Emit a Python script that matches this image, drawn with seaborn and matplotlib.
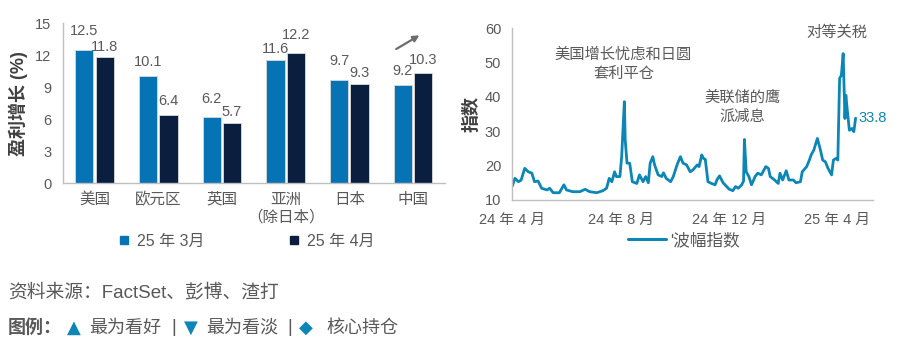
import matplotlib
import pandas as pd
import seaborn as sns

matplotlib.use("Agg")
import matplotlib.pyplot as plt
from matplotlib.lines import Line2D

# ---- left panel: earnings growth ----
regions = ["美国", "欧元区", "英国", "亚洲\n（除日本）", "日本", "中国"]
growth_mar = [12.5, 10.1, 6.2, 11.6, 9.7, 9.2]
growth_apr = [11.8, 6.4, 5.7, 12.2, 9.3, 10.3]
series_names = ["25 年 3月", "25 年 4月"]
growth_ticks = [0, 3, 6, 9, 12, 15]

# ---- right panel: volatility index ----
vix_dates = [
    "2024-04-01", "2024-04-04", "2024-04-08", "2024-04-11", "2024-04-15", "2024-04-19",
    "2024-04-23", "2024-04-26", "2024-04-30", "2024-05-04", "2024-05-10", "2024-05-13",
    "2024-05-17", "2024-05-24", "2024-05-29", "2024-06-01", "2024-06-08", "2024-06-16",
    "2024-06-22", "2024-06-27", "2024-07-05", "2024-07-12", "2024-07-16", "2024-07-19",
    "2024-07-22", "2024-07-25", "2024-07-27", "2024-07-31", "2024-08-02", "2024-08-05",
    "2024-08-06", "2024-08-08", "2024-08-11", "2024-08-14", "2024-08-19", "2024-08-22",
    "2024-08-26", "2024-08-29", "2024-09-01", "2024-09-03", "2024-09-06", "2024-09-08",
    "2024-09-12", "2024-09-16", "2024-09-18", "2024-09-21", "2024-09-26", "2024-09-29",
    "2024-10-02", "2024-10-04", "2024-10-07", "2024-10-10", "2024-10-14", "2024-10-18",
    "2024-10-21", "2024-10-26", "2024-10-28", "2024-10-31", "2024-11-02", "2024-11-04",
    "2024-11-07", "2024-11-11", "2024-11-15", "2024-11-17", "2024-11-20", "2024-11-24",
    "2024-11-28", "2024-12-01", "2024-12-05", "2024-12-08", "2024-12-11", "2024-12-15",
    "2024-12-17", "2024-12-18", "2024-12-20", "2024-12-23", "2024-12-26", "2024-12-30",
    "2025-01-02", "2025-01-06", "2025-01-11", "2025-01-14", "2025-01-16", "2025-01-21",
    "2025-01-25", "2025-01-27", "2025-01-30", "2025-02-03", "2025-02-06", "2025-02-11",
    "2025-02-14", "2025-02-19", "2025-02-21", "2025-02-26", "2025-03-01", "2025-03-03",
    "2025-03-06", "2025-03-10", "2025-03-13", "2025-03-16", "2025-03-19", "2025-03-22",
    "2025-03-26", "2025-03-28", "2025-03-31", "2025-04-02", "2025-04-04", "2025-04-06",
    "2025-04-08", "2025-04-10", "2025-04-11", "2025-04-13", "2025-04-15", "2025-04-18",
    "2025-04-20", "2025-04-22",
]
vix_values = [
    14.0, 16.3, 15.3, 15.8, 19.2, 18.2,
    17.8, 15.3, 15.5, 13.4, 12.9, 13.4,
    12.1, 12.1, 14.4, 12.9, 12.4, 12.4,
    13.1, 12.4, 12.1, 12.7, 13.4, 16.3,
    15.3, 18.2, 16.8, 16.8, 22.6, 38.6,
    27.4, 20.7, 20.7, 15.3, 14.8, 17.3,
    15.3, 16.8, 15.0, 20.7, 22.6, 20.2,
    17.3, 16.8, 17.9, 16.3, 15.3, 16.8,
    19.2, 20.7, 22.6, 20.7, 20.2, 18.2,
    18.7, 20.2, 19.7, 23.1, 22.1, 21.8,
    15.3, 14.8, 14.4, 15.8, 17.0, 15.0,
    13.9, 13.1, 12.7, 13.9, 13.4, 14.4,
    15.5, 27.6, 18.2, 16.8, 14.4, 16.8,
    17.8, 17.3, 19.7, 19.2, 16.8, 15.8,
    14.8, 17.8, 15.8, 18.5, 15.8, 15.8,
    15.0, 15.3, 18.2, 19.7, 21.6, 23.1,
    24.5, 27.9, 25.0, 21.6, 21.1, 19.2,
    17.3, 21.6, 22.1, 21.6, 45.4, 46.3,
    52.6, 33.7, 40.5, 35.2, 30.3, 30.8,
    29.9, 33.8,
]
vix_tick_dates = ["2024-04-01", "2024-08-01", "2024-12-01", "2025-04-01"]
vix_tick_labels = ["24 年 4 月", "24 年 8 月", "24 年 12 月", "25 年 4 月"]
vix_ticks = [10, 20, 30, 40, 50, 60]

BLUE = "#0673b4"
NAVY = "#0a1e40"
LINE_BLUE = "#0b86b6"
GREY = "#595959"
SPINE = "#bfbfbf"
SYMBOL_FONT = ["DejaVu Sans"]


def configure_plot_style() -> None:
    sns.set_theme(style="white", context="notebook")
    plt.rcParams.update(
        {
            "font.family": ["Liberation Sans", "Noto Sans CJK SC", "DejaVu Sans"],
            "font.size": 10.5,
            "xtick.labelsize": 10.5,
            "ytick.labelsize": 10.5,
            "xtick.color": SPINE,
            "ytick.color": SPINE,
            "xtick.labelcolor": GREY,
            "ytick.labelcolor": GREY,
            "axes.edgecolor": SPINE,
            "axes.linewidth": 1.0,
        }
    )


def style_axes(ax) -> None:
    sns.despine(ax=ax)
    ax.tick_params(axis="both", which="both", direction="out", width=1.0, color=SPINE)
    ax.tick_params(axis="y", length=4, pad=4)
    ax.grid(False)


def label_paddings(own: list[float], other: list[float]) -> list[float]:
    # stagger labels of neighbouring bars whose heights are close
    pads = []
    for a, b in zip(own, other):
        if abs(a - b) <= 1.1:
            pads.append(8.3 if a > b else 2.8)
        else:
            pads.append(4.8)
    return pads


def plot_growth(fig) -> None:
    ax = fig.add_axes([0.0687, 0.479, 0.419, 0.455])
    df = pd.DataFrame(
        {
            "region": regions * 2,
            "growth": growth_mar + growth_apr,
            "month": [series_names[0]] * len(regions) + [series_names[1]] * len(regions),
        }
    )
    sns.barplot(
        data=df,
        x="region",
        y="growth",
        hue="month",
        palette=[BLUE, NAVY],
        saturation=1,
        width=0.64,
        gap=0.1,
        edgecolor="#d9d9d9",
        linewidth=0.6,
        legend=False,
        ax=ax,
    )
    pad_sets = [label_paddings(growth_mar, growth_apr), label_paddings(growth_apr, growth_mar)]
    for container, pads in zip(ax.containers, pad_sets):
        for bar, pad in zip(container, pads):
            ax.annotate(
                f"{bar.get_height():.1f}",
                xy=(bar.get_x() + bar.get_width() / 2, bar.get_height()),
                xytext=(0, pad),
                textcoords="offset points",
                ha="center",
                va="bottom",
                color=GREY,
                fontsize=10.5,
            )

    ax.set_xlim(-0.5, len(regions) - 0.5)
    ax.set_ylim(0, 15)
    ax.set_yticks(growth_ticks)
    ax.set_xlabel("")
    ax.set_ylabel("盈利增长 (%)", color="#404040", fontsize=13, fontweight="bold", labelpad=5)
    style_axes(ax)
    ax.tick_params(axis="x", which="major", length=0, pad=6, labelsize=11.2)
    ax.set_xticks([i - 0.5 for i in range(len(regions) + 1)], minor=True)
    ax.tick_params(axis="x", which="minor", length=4)
    for lbl in ax.get_xticklabels():
        lbl.set_linespacing(1.2)

    ax.annotate(
        "",
        xy=(5.14, 14.0),
        xytext=(4.70, 12.45),
        arrowprops=dict(arrowstyle="-|>", color="#6d6d6d", lw=1.6, mutation_scale=9),
        annotation_clip=False,
    )

    handles = [
        Line2D([], [], marker="s", linestyle="none", markersize=6, color=c)
        for c in (BLUE, NAVY)
    ]
    fig.legend(
        handles,
        series_names,
        loc="center left",
        bbox_to_anchor=(104 / 912, 1 - 241 / 352),
        ncol=2,
        frameon=False,
        handlelength=0.7,
        handletextpad=0.45,
        columnspacing=5.3,
        labelcolor=GREY,
        fontsize=11.5,
    )


def plot_vix(fig) -> None:
    ax = fig.add_axes([0.5617, 0.432, 0.395, 0.488])
    vix_df = pd.DataFrame({"date": pd.to_datetime(vix_dates), "vix": vix_values})
    sns.lineplot(data=vix_df, x="date", y="vix", color=LINE_BLUE, linewidth=2.0, ax=ax)

    ax.set_xlim(pd.Timestamp("2024-04-01"), pd.Timestamp("2025-05-11"))
    ax.set_ylim(10, 60)
    ax.set_yticks(vix_ticks)
    ax.set_xticks(pd.to_datetime(vix_tick_dates))
    ax.set_xticklabels(vix_tick_labels)
    ax.set_xlabel("")
    ax.set_ylabel("指数", color="#404040", fontsize=13, fontweight="bold", labelpad=3)
    style_axes(ax)
    ax.tick_params(axis="x", length=4, pad=5)

    note_kw = dict(ha="center", va="center", color=GREY, fontsize=11, linespacing=1.4)
    ax.text(pd.Timestamp("2024-08-04"), 49.5, "美国增长忧虑和日圆\n套利平仓", **note_kw)
    ax.text(pd.Timestamp("2024-12-16"), 36.9, "美联储的鹰\n派减息", **note_kw)
    ax.text(pd.Timestamp("2025-04-01"), 58.8, "对等关税", clip_on=False, **note_kw)

    last_date = vix_df["date"].iloc[-1]
    last_val = vix_df["vix"].iloc[-1]
    ax.text(
        last_date + pd.Timedelta(days=3),
        last_val,
        f"{last_val:.1f}",
        ha="left",
        va="center",
        color=LINE_BLUE,
        fontsize=10.5,
        clip_on=False,
    )

    fig.legend(
        [Line2D([], [], color=LINE_BLUE, linewidth=2.2)],
        ["'波幅指数"],
        loc="center left",
        bbox_to_anchor=(613 / 912, 1 - 240 / 352),
        frameon=False,
        handlelength=2.3,
        handletextpad=0.25,
        labelcolor=GREY,
        fontsize=12,
    )


def add_footer(fig) -> None:
    y_src = 1 - 293 / 352
    y_key = 1 - 328 / 352
    fig.text(8 / 912, y_src, "资料来源：FactSet、彭博、渣打", color=GREY, fontsize=13.5, va="center")
    fig.text(8 / 912, y_key, "图例：", color=GREY, fontsize=13, fontweight="bold", va="center")
    pieces = [
        (67, "▲", LINE_BLUE, True),
        (89, "最为看好", GREY, False),
        (171, "|", GREY, False),
        (184, "▼", LINE_BLUE, True),
        (206, "最为看淡", GREY, False),
        (287, "|", GREY, False),
        (299, "◆", LINE_BLUE, True),
        (326, "核心持仓", GREY, False),
    ]
    for x, txt, col, is_symbol in pieces:
        kw = {"family": SYMBOL_FONT} if is_symbol else {}
        fig.text(x / 912, y_key, txt, color=col, fontsize=13, va="center", **kw)


def main() -> None:
    configure_plot_style()
    fig = plt.figure(figsize=(9.12, 3.52), dpi=100)
    fig.patch.set_facecolor("white")
    plot_growth(fig)
    plot_vix(fig)
    add_footer(fig)
    fig.savefig("out.png", dpi=100)
    plt.close(fig)


if __name__ == "__main__":
    main()
